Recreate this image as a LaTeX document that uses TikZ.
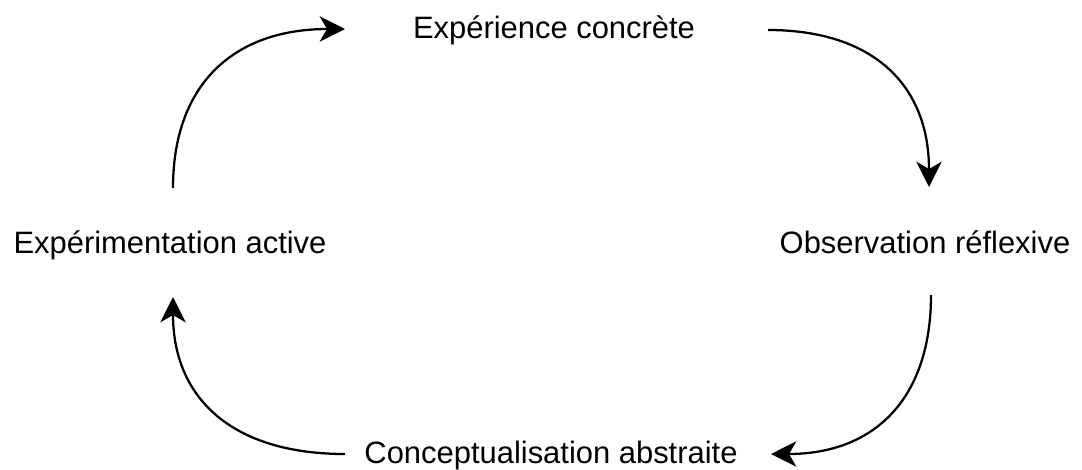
\documentclass[tikz,border=0pt]{standalone}
\usepackage{fontspec}
\setmainfont{Liberation Sans}
\usetikzlibrary{arrows.meta}

\tikzset{
  stage/.style={font=\fontsize{23.2}{28}\selectfont, anchor=base, inner sep=0pt},
  cyclearrow/.style={line width=1.7pt, -{Stealth[length=19pt,width=19pt,inset=5.5pt]}}
}

\begin{document}
\begin{tikzpicture}[x=0.75pt,y=0.75pt,yscale=-1,xscale=1]
\useasboundingbox (0,0) rectangle (1082,469);

% Text Node
\node[stage] (concrete) at (554,38) {Expérience concrète};
% Text Node
\node[stage] (reflexive) at (925,253) {Observation réflexive};
% Text Node
\node[stage] (abstract) at (551,463) {Conceptualisation abstraite};
% Text Node
\node[stage] (active) at (170,253) {Expérimentation active};

% arrow ends
\coordinate (act out) at (173,188);
\coordinate (con in) at (345,29);
\coordinate (con out) at (768,30);
\coordinate (ref in) at (929,187);
\coordinate (ref out) at (931,295);
\coordinate (abs in) at (771,454);
\coordinate (abs out) at (345,454);
\coordinate (act in) at (173,297);

%Curve Lines
\draw[cyclearrow] (act out) .. controls (173,85) and (233,29) .. (con in);
%Curve Lines
\draw[cyclearrow] (con out) .. controls (873,30) and (929,85) .. (ref in);
%Curve Lines
\draw[cyclearrow] (ref out) .. controls (931,398) and (875,454) .. (abs in);
%Curve Lines
\draw[cyclearrow] (abs out) .. controls (233,454) and (173,399) .. (act in);

\end{tikzpicture}
\end{document}
